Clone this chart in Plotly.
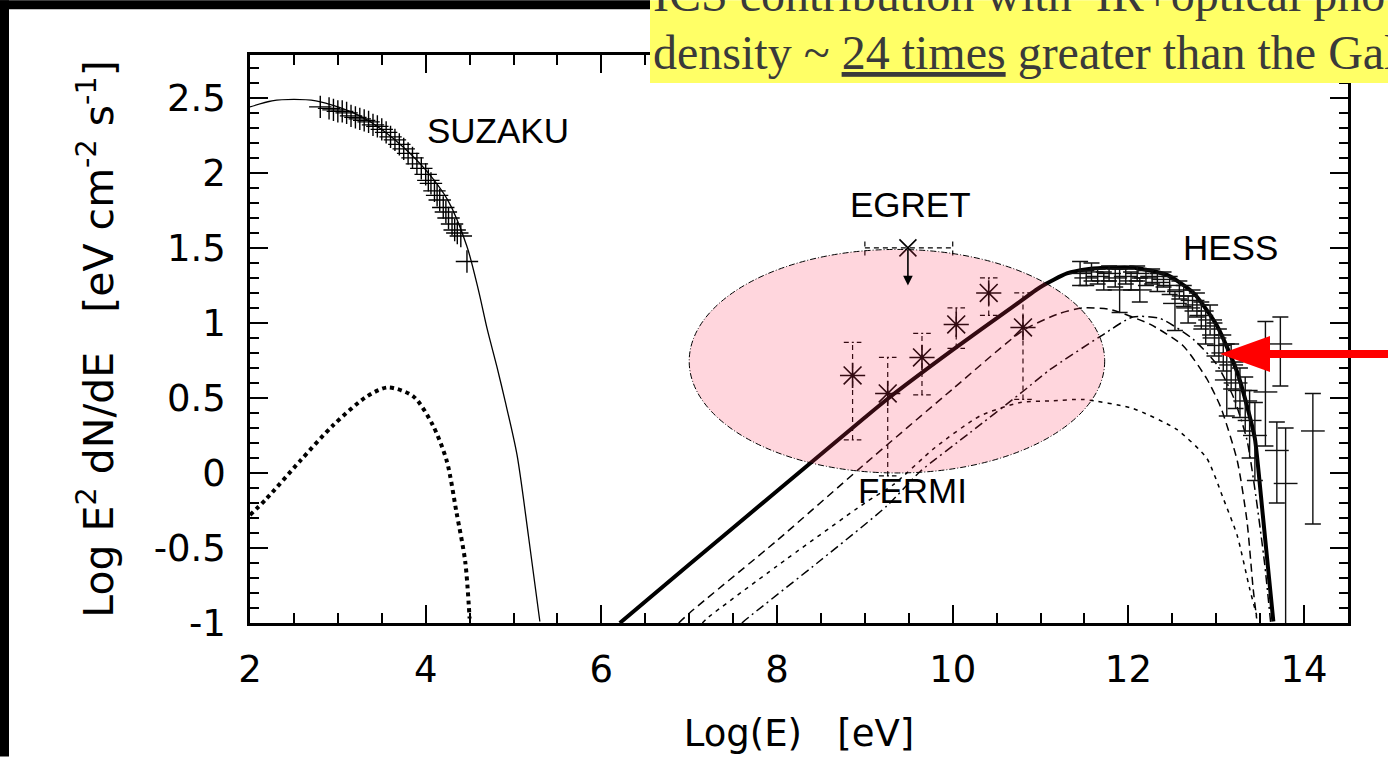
import plotly.graph_objects as go

# ---------------- data ----------------
sync_x = [2.0, 2.25, 2.5, 2.75, 3.0, 3.25, 3.5, 3.75, 4.0, 4.25, 4.47, 4.6, 4.7, 4.81, 4.9, 5.04, 5.17, 5.3]
sync_y = [2.44, 2.48, 2.49, 2.48, 2.44, 2.38, 2.29, 2.17, 2.02, 1.82, 1.51, 1.22, 0.96, 0.71, 0.49, 0.12, -0.42, -0.99]

therm_x = [2.0, 2.19, 2.57, 2.95, 3.33, 3.57, 3.86, 4.08, 4.24, 4.35, 4.45, 4.5]
therm_y = [-0.28, -0.17, 0.08, 0.32, 0.51, 0.57, 0.51, 0.32, 0.08, -0.26, -0.59, -0.97]

total_x = [6.21, 7.0, 8.0, 9.0, 9.25, 10.0, 10.69, 11.0, 11.3, 11.55, 11.8, 12.05, 12.44, 12.74, 13.01, 13.24, 13.38, 13.44, 13.53, 13.65]
total_y = [-1.0, -0.61, -0.12, 0.37, 0.49, 0.82, 1.11, 1.24, 1.33, 1.36, 1.37, 1.37, 1.32, 1.20, 0.98, 0.67, 0.38, 0.23, -0.28, -0.99]

ldash_x = [6.88, 7.01, 8.0, 8.98, 10.0, 10.80, 11.2, 11.48, 11.79, 12.25, 12.62, 12.89, 13.05, 13.24, 13.35, 13.42, 13.46]
ldash_y = [-1.0, -0.93, -0.45, 0.05, 0.56, 0.95, 1.06, 1.10, 1.09, 0.99, 0.85, 0.63, 0.44, 0.08, -0.32, -0.77, -0.97]

sdash_x = [7.15, 7.20, 8.0, 9.0, 9.32, 9.8, 10.31, 10.77, 11.11, 11.48, 12.05, 12.55, 12.89, 13.08, 13.24, 13.38, 13.46]
sdash_y = [-1.0, -0.97, -0.62, -0.20, -0.08, 0.17, 0.38, 0.47, 0.48, 0.49, 0.43, 0.29, 0.10, -0.17, -0.42, -0.77, -0.95]

ddot_x = [7.6, 7.66, 8.5, 9.25, 9.63, 10.2, 10.77, 11.11, 11.68, 12.05, 12.36, 12.74, 13.01, 13.2, 13.35, 13.45, 13.55, 13.62]
ddot_y = [-1.0, -0.97, -0.58, -0.22, 0.01, 0.27, 0.53, 0.69, 0.91, 1.04, 1.03, 0.89, 0.72, 0.50, 0.22, -0.15, -0.6, -1.0]

suzaku_x = [2.80, 2.90, 2.95, 3.00, 3.05, 3.10, 3.15, 3.20, 3.25, 3.30, 3.35, 3.40, 3.45, 3.50, 3.55, 3.60, 3.65,
            3.70, 3.75, 3.80, 3.85, 3.90, 3.95, 4.00, 4.03, 4.06, 4.10, 4.13, 4.16, 4.20, 4.23, 4.26, 4.30, 4.33,
            4.36, 4.40, 4.47]
suzaku_y = [2.44, 2.43, 2.42, 2.41, 2.41, 2.40, 2.38, 2.37, 2.36, 2.35, 2.34, 2.32, 2.31, 2.29, 2.27, 2.24, 2.22,
            2.19, 2.16, 2.13, 2.10, 2.06, 2.03, 1.99, 1.95, 1.93, 1.88, 1.85, 1.82, 1.77, 1.74, 1.70, 1.66, 1.62,
            1.60, 1.58, 1.41]

fermi_x = [8.86, 9.26, 9.65, 10.04, 10.41, 10.80]
fermi_y = [0.65, 0.53, 0.77, 0.99, 1.20, 0.97]
fermi_lo = [0.22, -0.02, 0.52, 0.83, 1.05, 0.49]
fermi_hi = [0.87, 0.77, 0.93, 1.10, 1.30, 1.20]

egret_x = [9.49]
egret_y = [1.50]
egret_xlo = [9.0]
egret_xhi = [10.0]
egret_ul = [1.25]

hess_x = [11.45, 11.52, 11.58, 11.65, 11.72, 11.78, 11.85, 11.90, 11.97, 12.03, 12.10, 12.13, 12.20, 12.27, 12.33,
          12.40, 12.47, 12.53, 12.58, 12.63, 12.68, 12.73, 12.78, 12.83, 12.88, 12.93, 12.98, 13.03, 13.08, 13.12,
          13.17, 13.22, 13.27, 13.33, 13.38, 13.44, 13.56, 13.69, 13.73, 13.79, 14.10]
hess_y = [1.33, 1.30, 1.34, 1.31, 1.28, 1.33, 1.30, 1.22, 1.31, 1.28, 1.33, 1.22, 1.30, 1.31, 1.27, 1.29, 1.25,
          1.13, 1.22, 1.18, 1.10, 1.15, 1.12, 1.05, 0.98, 1.02, 0.90, 0.85, 0.80, 0.62, 0.72, 0.60, 0.55, 0.48,
          0.35, 0.25, 0.54, 0.15, 0.86, -0.07, 0.28]
hess_ep = [0.08, 0.05, 0.06, 0.05, 0.06, 0.05, 0.06, 0.14, 0.05, 0.06, 0.05, 0.08, 0.05, 0.05, 0.06, 0.05, 0.06,
           0.08, 0.06, 0.07, 0.08, 0.07, 0.08, 0.09, 0.1, 0.1, 0.1, 0.11, 0.12, 0.24, 0.14, 0.14, 0.15, 0.16,
           0.2, 0.22, 0.47, 0.19, 0.18, 0.37, 0.25]
hess_em = [0.08, 0.05, 0.06, 0.05, 0.06, 0.05, 0.06, 0.15, 0.05, 0.06, 0.05, 0.08, 0.05, 0.05, 0.06, 0.05, 0.06,
           0.18, 0.06, 0.07, 0.1, 0.07, 0.08, 0.09, 0.12, 0.1, 0.12, 0.11, 0.12, 0.24, 0.16, 0.17, 0.18, 0.2,
           0.25, 0.3, 0.36, 0.35, 0.28, 1.5, 0.62]

x_ticks = [2, 4, 6, 8, 10, 12, 14]
y_ticks = [-1, -0.5, 0, 0.5, 1, 1.5, 2, 2.5]
y_ticklabels = ["-1", "-0.5", "0", "0.5", "1", "1.5", "2", "2.5"]

labels = ["SUZAKU", "EGRET", "HESS", "FERMI"]
label_x = [4.82, 9.52, 13.16, 9.54]
label_y = [2.28, 1.79, 1.50, -0.12]

note_line1 = "ICS contribution with  IR+optical photon"
note_line2 = "density ~ <u>24 times</u> greater than the Galactic"

# ---------------- figure ----------------
W, H = 1388, 759
ML, MR, MT, MB = 250, 40, 55, 134
PW, PH = W - ML - MR, H - MT - MB


def px(xp):
    return (xp - ML) / PW


def py(yp):
    return (H - MB - yp) / PH


fig = go.Figure()
K = "#000000"

fig.add_trace(go.Scatter(x=sync_x, y=sync_y, mode="lines", line=dict(color=K, width=1.3, shape="spline", smoothing=0.8)))
fig.add_trace(go.Scatter(x=therm_x, y=therm_y, mode="lines", line=dict(color=K, width=4, dash="4px,4px", shape="spline", smoothing=0.8)))
fig.add_trace(go.Scatter(x=ldash_x, y=ldash_y, mode="lines", line=dict(color=K, width=1.5, dash="8px,5px", shape="spline", smoothing=0.6)))
fig.add_trace(go.Scatter(x=sdash_x, y=sdash_y, mode="lines", line=dict(color=K, width=1.5, dash="4px,5px", shape="spline", smoothing=0.6)))
fig.add_trace(go.Scatter(x=ddot_x, y=ddot_y, mode="lines", line=dict(color=K, width=1.5, dash="9px,4px,2px,4px", shape="spline", smoothing=0.6)))
fig.add_trace(go.Scatter(x=total_x, y=total_y, mode="lines", line=dict(color=K, width=4, shape="spline", smoothing=0.6)))

# SUZAKU data
fig.add_trace(go.Scatter(x=suzaku_x, y=suzaku_y, mode="markers",
                         marker=dict(symbol="cross-thin", size=16, color=K, line=dict(color=K, width=1.4))))

# HESS data
fig.add_trace(go.Scatter(x=hess_x, y=hess_y, mode="markers",
                         marker=dict(symbol="line-ew", size=17, color="#111111", line=dict(color="#111111", width=1.4)),
                         error_y=dict(type="data", symmetric=False, array=hess_ep, arrayminus=hess_em,
                                      color="#111111", thickness=1.4, width=8)))

# FERMI dashed error bars
ev_x, ev_y, cap_x, cap_y = [], [], [], []
for xv, lo, hi in zip(fermi_x, fermi_lo, fermi_hi):
    ev_x += [xv, xv, None]
    ev_y += [lo, hi, None]
    for yc in (lo, hi):
        cap_x += [xv - 0.1, xv + 0.1, None]
        cap_y += [yc, yc, None]
fig.add_trace(go.Scatter(x=ev_x, y=ev_y, mode="lines", line=dict(color=K, width=1.2, dash="5px,4px")))
fig.add_trace(go.Scatter(x=cap_x, y=cap_y, mode="lines", line=dict(color=K, width=1.2, dash="5px,3px,2px,3px")))
fig.add_trace(go.Scatter(x=fermi_x, y=fermi_y, mode="markers",
                         marker=dict(symbol="asterisk-open", size=21, color=K, line=dict(color=K, width=1.6))))

# EGRET upper limit
eh_x, eh_y = [], []
for xv, yv, xl, xh in zip(egret_x, egret_y, egret_xlo, egret_xhi):
    eh_x += [xl, xh, None, xl, xl, None, xh, xh, None]
    eh_y += [yv, yv, None, yv - 0.05, yv + 0.05, None, yv - 0.05, yv + 0.05, None]
fig.add_trace(go.Scatter(x=eh_x, y=eh_y, mode="lines", line=dict(color=K, width=1.2, dash="5px,4px")))
fig.add_trace(go.Scatter(x=egret_x, y=egret_y, mode="markers",
                         marker=dict(symbol="x-thin-open", size=17, color=K, line=dict(color=K, width=1.6))))

annotations = []
for xv, yv, yu in zip(egret_x, egret_y, egret_ul):
    annotations.append(dict(x=xv, y=yu, ax=xv, ay=yv, xref="x", yref="y", axref="x", ayref="y",
                            showarrow=True, arrowhead=2, arrowsize=1.2, arrowwidth=1.6, arrowcolor=K, text=""))

for t, xv, yv in zip(labels, label_x, label_y):
    annotations.append(dict(x=xv, y=yv, xref="x", yref="y", text=t, showarrow=False,
                            font=dict(family="Liberation Sans, Arial", size=35, color=K)))

serif = dict(family="Liberation Serif, Times New Roman", size=48, color="#3a3a3a")
annotations.append(dict(x=px(651), y=py(-6), xref="paper", yref="paper", xanchor="left", yanchor="middle",
                        text=note_line1, showarrow=False, font=serif))
annotations.append(dict(x=px(651), y=py(52), xref="paper", yref="paper", xanchor="left", yanchor="middle",
                        text=note_line2, showarrow=False, font=serif))

shapes = [
    # pink ellipse (semi transparent, above the curves)
    dict(type="circle", xref="x", yref="y", x0=7.0, x1=11.73, y0=0.0, y1=1.49, layer="above",
         fillcolor="rgba(255,50,85,0.2)", line=dict(color="#000000", width=1, dash="6px,2px,1px,2px")),
    # black frame edges
    dict(type="rect", xref="paper", yref="paper", x0=px(0), x1=px(9), y0=py(H), y1=py(0),
         fillcolor="#000000", line=dict(width=0), layer="above"),
    dict(type="rect", xref="paper", yref="paper", x0=px(0), x1=px(650), y0=py(9), y1=py(0),
         fillcolor="#000000", line=dict(width=0), layer="above"),
    # yellow note box
    dict(type="rect", xref="paper", yref="paper", x0=px(650), x1=px(W), y0=py(83), y1=py(0),
         fillcolor="#ffff66", line=dict(width=0), layer="above"),
    # red arrow
    dict(type="rect", xref="paper", yref="paper", x0=px(1262), x1=px(W), y0=py(359), y1=py(351),
         fillcolor="#ff0000", line=dict(width=0), layer="above"),
    dict(type="path", xref="paper", yref="paper",
         path=f"M {px(1220)} {py(355)} L {px(1270)} {py(337)} L {px(1270)} {py(373)} Z",
         fillcolor="#ff0000", line=dict(width=0), layer="above"),
]

tick_font = dict(family="DejaVu Sans", size=37, color=K)

fig.update_layout(
    width=W, height=H,
    margin=dict(l=ML, r=MR, t=MT, b=MB),
    paper_bgcolor="white", plot_bgcolor="white",
    showlegend=False,
    annotations=annotations,
    shapes=shapes,
    xaxis=dict(range=[2, 14.5], tickvals=x_ticks, ticktext=[str(v) for v in x_ticks],
               ticks="inside", ticklen=18, tickwidth=2, tickcolor=K,
               minor=dict(dtick=0.5, tick0=0, ticks="inside", ticklen=10, tickwidth=2, tickcolor=K),
               showline=True, linewidth=2.5, linecolor=K, mirror="allticks",
               showgrid=False, zeroline=False, tickfont=tick_font, ticklabelstandoff=12,
               title=dict(text="Log(E)   [eV]", font=dict(family="DejaVu Sans", size=37, color=K), standoff=30)),
    yaxis=dict(range=[-1, 2.786], tickvals=y_ticks, ticktext=y_ticklabels,
               ticks="inside", ticklen=18, tickwidth=2, tickcolor=K,
               minor=dict(dtick=0.1, tick0=0, ticks="inside", ticklen=9, tickwidth=2, tickcolor=K),
               showline=True, linewidth=2.5, linecolor=K, mirror="allticks",
               showgrid=False, zeroline=False, tickfont=tick_font, ticklabelstandoff=14,
               title=dict(text="Log E<sup>2</sup> dN/dE   [eV cm<sup>-2</sup> s<sup>-1</sup>]",
                          font=dict(family="DejaVu Sans", size=41, color=K), standoff=28)),
)

fig.write_html("out.html")
